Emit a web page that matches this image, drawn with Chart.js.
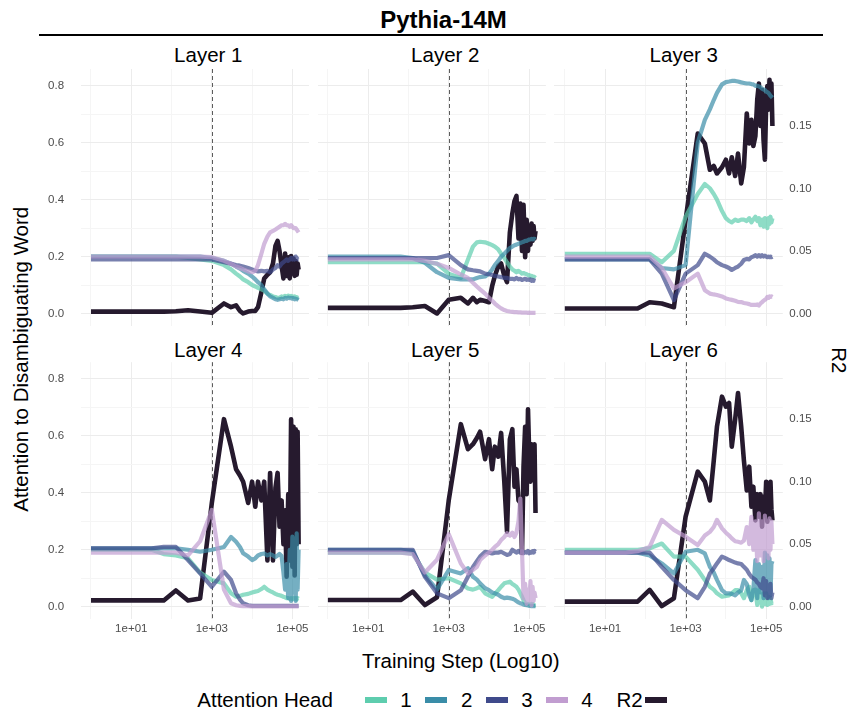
<!DOCTYPE html>
<html>
<head>
<meta charset="utf-8">
<script src="https://cdn.jsdelivr.net/npm/chart.js@4.4.1/dist/chart.umd.min.js"></script>
<style>
  body { margin: 0; background: #fff; width: 847px; height: 723px; position: relative; overflow: hidden;
         font-family: "Liberation Sans", Arial, sans-serif; color: #000; }
  .txt { position: absolute; white-space: nowrap; font-size: 20.5px; line-height: 20.5px; }
  .ctr { transform: translateX(-50%); }
  canvas { position: absolute; }
  .key { position: absolute; height: 6px; top: 697px; }
</style>
</head>
<body>
<div class="txt ctr" style="left:443.5px;top:8px;font-size:24px;line-height:24px;font-weight:bold">Pythia-14M</div>
<div style="position:absolute;left:39px;top:34px;width:784px;height:1.5px;background:#000"></div>
<div id="titles"></div>
<div class="txt" style="left:-139.5px;top:348.75px;width:320px;text-align:center;transform:rotate(-90deg)">Attention to Disambiguating Word</div>
<div class="txt" style="left:819px;top:350.25px;width:40px;text-align:center;transform:rotate(90deg)">R2</div>
<div class="txt ctr" style="left:460.8px;top:651px">Training Step (Log10)</div>
<div id="legend"></div>

<script>
// checkpoints (training steps) shared by all panels
const STEPS = [1, 2, 4, 8, 16, 32, 64, 128, 256, 512,
  1000, 2000, 3000, 4000, 5000, 6000, 8000, 10000,
  12000, 14000, 17000, 20000, 24000, 28000, 33000, 38000, 43000, 48000, 54000, 60000,
  66000, 72000, 79000, 86000, 93000, 100000, 107000, 114000, 121000, 128000, 135000, 143000];

// attention per head (left axis) and R2 (right axis)
const L1_H1 = [0.2,0.2,0.2,0.2,0.2,0.2,0.2,0.2,0.195,0.19,
  0.185,0.17,0.155,0.14,0.13,0.12,0.11,0.1,
  0.095,0.09,0.085,0.08,0.07,0.065,0.06,0.058,0.055,0.055,0.06,0.058,0.062,0.06,0.063,0.06,0.062,0.06,0.058,0.06,0.057,0.058,0.055,0.055];
const L1_H2 = [0.2,0.2,0.2,0.2,0.2,0.2,0.2,0.2,0.2,0.2,
  0.195,0.185,0.175,0.165,0.158,0.15,0.14,0.13,
  0.12,0.11,0.1,0.085,0.07,0.06,0.055,0.05,0.048,0.05,0.052,0.05,0.055,0.052,0.056,0.054,0.055,0.052,0.054,0.05,0.052,0.05,0.05,0.048];
const L1_H3 = [0.19,0.19,0.19,0.19,0.19,0.19,0.19,0.19,0.19,0.19,
  0.19,0.18,0.175,0.17,0.168,0.165,0.16,0.155,
  0.15,0.148,0.15,0.148,0.15,0.145,0.155,0.16,0.17,0.165,0.175,0.18,0.185,0.19,0.185,0.19,0.195,0.19,0.195,0.19,0.2,0.195,0.19,0.19];
const L1_H4 = [0.2,0.2,0.2,0.2,0.2,0.2,0.2,0.2,0.2,0.2,
  0.198,0.185,0.175,0.165,0.16,0.155,0.148,0.145,
  0.15,0.17,0.21,0.245,0.27,0.285,0.29,0.295,0.3,0.305,0.31,0.31,0.315,0.31,0.31,0.305,0.31,0.305,0.3,0.3,0.3,0.295,0.29,0.285];
const L1_R2 = [0.0015,0.0015,0.0015,0.0015,0.0015,0.0015,0.0015,0.0018,0.0025,0.0015,
  0.0005,0.008,0.005,0.0065,0.002,0.0,0.0015,0.002,
  0.002,0.005,0.017,0.028,0.031,0.033,0.04,0.054,0.058,0.05,0.038,0.028,0.048,0.03,0.045,0.028,0.046,0.032,0.044,0.03,0.042,0.031,0.04,0.035];

const L2_H1 = [0.18,0.18,0.18,0.18,0.18,0.18,0.18,0.18,0.18,0.175,
  0.14,0.125,0.19,0.235,0.25,0.252,0.25,0.245,
  0.24,0.235,0.225,0.21,0.195,0.18,0.165,0.155,0.15,0.145,0.15,0.145,0.14,0.142,0.14,0.138,0.135,0.135,0.13,0.132,0.13,0.13,0.128,0.125];
const L2_H2 = [0.2,0.2,0.2,0.2,0.2,0.2,0.2,0.195,0.178,0.145,
  0.125,0.12,0.12,0.12,0.125,0.128,0.13,0.14,
  0.155,0.17,0.185,0.2,0.21,0.22,0.23,0.235,0.24,0.242,0.245,0.248,0.25,0.252,0.255,0.255,0.258,0.26,0.26,0.262,0.26,0.262,0.262,0.26];
const L2_H3 = [0.195,0.195,0.195,0.195,0.195,0.195,0.195,0.195,0.195,0.195,
  0.205,0.17,0.155,0.152,0.15,0.148,0.14,0.138,
  0.135,0.132,0.13,0.128,0.125,0.125,0.122,0.122,0.12,0.125,0.12,0.122,0.118,0.12,0.122,0.118,0.12,0.118,0.12,0.115,0.118,0.115,0.116,0.115];
const L2_H4 = [0.19,0.19,0.19,0.19,0.19,0.19,0.19,0.19,0.185,0.175,
  0.16,0.137,0.125,0.108,0.095,0.085,0.07,0.055,
  0.045,0.035,0.025,0.018,0.012,0.009,0.007,0.006,0.005,0.005,0.004,0.004,0.003,0.003,0.003,0.003,0.002,0.003,0.002,0.002,0.002,0.002,0.002,0.002];
const L2_R2 = [0.0045,0.0045,0.0045,0.0045,0.0045,0.0045,0.0045,0.005,0.006,0.0,
  0.011,0.0125,0.008,0.0125,0.009,0.011,0.01,0.009,
  0.022,0.03,0.038,0.04,0.03,0.025,0.065,0.08,0.09,0.094,0.06,0.088,0.05,0.087,0.045,0.075,0.05,0.07,0.055,0.072,0.058,0.07,0.06,0.066];

const L3_H1 = [0.21,0.21,0.21,0.21,0.21,0.21,0.21,0.21,0.18,0.22,
  0.34,0.42,0.455,0.44,0.42,0.4,0.36,0.335,
  0.325,0.32,0.33,0.325,0.33,0.33,0.325,0.335,0.32,0.33,0.34,0.325,0.335,0.31,0.33,0.305,0.335,0.32,0.3,0.335,0.315,0.34,0.32,0.335];
const L3_H2 = [0.19,0.19,0.19,0.19,0.19,0.19,0.19,0.19,0.16,0.155,
  0.17,0.6,0.68,0.717,0.75,0.775,0.805,0.813,
  0.815,0.817,0.817,0.815,0.812,0.81,0.808,0.808,0.806,0.805,0.8,0.8,0.798,0.795,0.79,0.787,0.785,0.78,0.778,0.775,0.77,0.765,0.762,0.758];
const L3_H3 = [0.19,0.19,0.19,0.19,0.19,0.19,0.19,0.19,0.14,0.047,
  0.14,0.17,0.21,0.2,0.19,0.18,0.17,0.165,
  0.16,0.153,0.16,0.165,0.175,0.188,0.192,0.19,0.198,0.2,0.205,0.2,0.205,0.2,0.205,0.2,0.203,0.2,0.198,0.2,0.198,0.2,0.198,0.2];
const L3_H4 = [0.2,0.2,0.2,0.2,0.2,0.2,0.2,0.2,0.16,0.088,
  0.11,0.14,0.082,0.07,0.067,0.065,0.06,0.053,
  0.05,0.048,0.045,0.041,0.04,0.037,0.035,0.033,0.03,0.03,0.03,0.032,0.028,0.035,0.04,0.045,0.048,0.052,0.058,0.055,0.06,0.058,0.06,0.058];
const L3_R2 = [0.004,0.004,0.004,0.004,0.004,0.004,0.004,0.009,0.008,0.005,
  0.075,0.144,0.136,0.115,0.118,0.112,0.117,0.123,
  0.112,0.125,0.11,0.128,0.104,0.117,0.16,0.136,0.155,0.134,0.142,0.171,0.184,0.15,0.179,0.139,0.123,0.168,0.182,0.163,0.187,0.166,0.184,0.15];

const L4_H1 = [0.2,0.2,0.2,0.2,0.2,0.2,0.185,0.18,0.17,0.12,
  0.094,0.082,0.047,0.035,0.038,0.042,0.045,0.05,
  0.053,0.055,0.062,0.07,0.06,0.055,0.05,0.045,0.042,0.04,0.038,0.035,0.033,0.03,0.03,0.028,0.03,0.027,0.03,0.028,0.03,0.026,0.03,0.028];
const L4_H2 = [0.205,0.205,0.205,0.205,0.205,0.205,0.205,0.205,0.2,0.193,
  0.2,0.21,0.245,0.228,0.21,0.188,0.176,0.164,
  0.17,0.18,0.185,0.187,0.18,0.185,0.18,0.175,0.18,0.185,0.178,0.12,0.06,0.15,0.03,0.2,0.02,0.246,0.05,0.24,0.02,0.258,0.06,0.2];
const L4_H3 = [0.205,0.205,0.205,0.205,0.205,0.205,0.21,0.21,0.164,0.117,
  0.07,0.123,0.094,0.047,0.025,0.012,0.005,0.003,
  0.003,0.003,0.003,0.003,0.003,0.003,0.003,0.003,0.003,0.003,0.003,0.003,0.003,0.003,0.003,0.003,0.003,0.003,0.003,0.003,0.003,0.003,0.003,0.003];
const L4_H4 = [0.19,0.19,0.19,0.19,0.19,0.19,0.19,0.19,0.18,0.23,
  0.34,0.06,0.012,0.005,0.003,0.002,0.002,0.001,
  0.001,0.001,0.001,0.001,0.001,0.001,0.001,0.001,0.001,0.001,0.001,0.001,0.001,0.001,0.001,0.001,0.001,0.001,0.001,0.001,0.001,0.001,0.001,0.001];
const L4_R2 = [0.005,0.005,0.005,0.005,0.005,0.005,0.005,0.013,0.005,0.0065,
  0.083,0.15,0.128,0.11,0.105,0.1,0.083,0.1,
  0.08,0.1,0.085,0.1,0.037,0.107,0.037,0.095,0.107,0.064,0.085,0.05,0.077,0.024,0.09,0.037,0.15,0.032,0.144,0.025,0.142,0.05,0.14,0.05];

const L5_H1 = [0.19,0.19,0.19,0.19,0.19,0.19,0.19,0.187,0.12,0.095,
  0.1,0.082,0.064,0.06,0.065,0.07,0.047,0.04,
  0.035,0.045,0.058,0.07,0.082,0.085,0.088,0.08,0.075,0.07,0.06,0.047,0.035,0.023,0.012,0.008,0.01,0.008,0.006,0.01,0.006,0.008,0.005,0.006];
const L5_H2 = [0.2,0.2,0.2,0.2,0.2,0.2,0.2,0.195,0.11,0.06,
  0.129,0.117,0.135,0.105,0.095,0.082,0.065,0.058,
  0.05,0.047,0.042,0.035,0.03,0.032,0.03,0.028,0.025,0.02,0.015,0.012,0.01,0.008,0.006,0.005,0.004,0.003,0.003,0.002,0.003,0.002,0.002,0.002];
const L5_H3 = [0.2,0.2,0.2,0.2,0.2,0.2,0.2,0.2,0.105,0.047,
  0.03,0.058,0.105,0.14,0.16,0.176,0.193,0.19,
  0.187,0.19,0.19,0.193,0.187,0.182,0.185,0.2,0.195,0.19,0.196,0.19,0.195,0.188,0.192,0.19,0.196,0.188,0.192,0.19,0.195,0.19,0.196,0.193];
const L5_H4 = [0.19,0.19,0.19,0.19,0.19,0.19,0.19,0.185,0.12,0.165,
  0.255,0.152,0.117,0.129,0.14,0.164,0.18,0.19,
  0.2,0.21,0.22,0.234,0.245,0.258,0.25,0.26,0.245,0.26,0.3,0.38,0.2,0.03,0.08,0.01,0.06,0.02,0.09,0.005,0.07,0.02,0.05,0.03];
const L5_R2 = [0.0053,0.0053,0.0053,0.0053,0.0053,0.0053,0.0053,0.012,0.0013,0.0075,
  0.085,0.146,0.126,0.13,0.135,0.14,0.118,0.134,
  0.11,0.128,0.12,0.139,0.1,0.06,0.134,0.142,0.096,0.11,0.085,0.083,0.043,0.112,0.144,0.09,0.158,0.12,0.1,0.13,0.11,0.12,0.13,0.075];

const L6_H1 = [0.2,0.2,0.2,0.2,0.2,0.2,0.2,0.205,0.222,0.176,
  0.176,0.13,0.094,0.07,0.06,0.047,0.035,0.038,
  0.04,0.047,0.058,0.058,0.047,0.03,0.058,0.07,0.023,0.058,0.06,0.006,0.058,0.03,0.0,0.047,0.01,0.047,0.006,0.035,0.01,0.03,0.012,0.015];
const L6_H2 = [0.19,0.19,0.19,0.19,0.19,0.19,0.19,0.18,0.152,0.117,
  0.193,0.2,0.187,0.14,0.12,0.094,0.058,0.047,
  0.047,0.045,0.04,0.05,0.058,0.094,0.08,0.04,0.023,0.06,0.164,0.03,0.15,0.05,0.14,0.03,0.19,0.05,0.18,0.03,0.17,0.04,0.15,0.16];
const L6_H3 = [0.19,0.19,0.19,0.19,0.19,0.19,0.19,0.19,0.14,0.094,
  0.058,0.03,0.07,0.117,0.135,0.152,0.176,0.17,
  0.164,0.16,0.155,0.152,0.15,0.14,0.13,0.115,0.105,0.1,0.095,0.085,0.08,0.07,0.065,0.1,0.04,0.09,0.03,0.07,0.04,0.08,0.03,0.05];
const L6_H4 = [0.19,0.19,0.19,0.19,0.19,0.19,0.195,0.21,0.305,0.27,
  0.246,0.217,0.25,0.263,0.28,0.305,0.275,0.26,
  0.25,0.24,0.23,0.228,0.225,0.232,0.28,0.22,0.316,0.2,0.3,0.16,0.328,0.18,0.3,0.16,0.32,0.2,0.3,0.17,0.31,0.2,0.3,0.22];
const L6_R2 = [0.004,0.004,0.004,0.004,0.004,0.004,0.004,0.0134,0.0005,0.0067,
  0.072,0.108,0.1,0.085,0.117,0.144,0.168,0.16,
  0.163,0.128,0.15,0.171,0.144,0.117,0.093,0.112,0.08,0.096,0.069,0.09,0.072,0.09,0.064,0.088,0.075,0.1,0.068,0.098,0.072,0.1,0.078,0.069];

const LAYER_NAMES = ['Layer 1', 'Layer 2', 'Layer 3', 'Layer 4', 'Layer 5', 'Layer 6'];
const HEADS = [
  [L1_H1, L1_H2, L1_H3, L1_H4], [L2_H1, L2_H2, L2_H3, L2_H4], [L3_H1, L3_H2, L3_H3, L3_H4],
  [L4_H1, L4_H2, L4_H3, L4_H4], [L5_H1, L5_H2, L5_H3, L5_H4], [L6_H1, L6_H2, L6_H3, L6_H4],
];
const R2 = [L1_R2, L2_R2, L3_R2, L4_R2, L5_R2, L6_R2];

const HEAD_LABELS = ['1', '2', '3', '4'];
const X_GRID = [1, 10, 100, 1000, 10000, 100000];
const X_LABELED = [10, 1000, 100000];
const Y_GRID = [0, 0.1, 0.2, 0.3, 0.4, 0.5, 0.6, 0.7, 0.8];
const R2_TICKS = [0, 0.05, 0.1, 0.15];
const DASH_STEP = 1000;

const HEAD_COLORS = ['#5ecdae', '#3a8da8', '#3f4a8b', '#c19dd0'];
const R2_COLOR = '#261a2e';

// panel geometry (px)
const PANEL_LEFT = [80.6, 317.5, 554.4];
const PANEL_TOP = [69, 362.2];
const PANEL_W = 228.4, PANEL_H = 257.2;
const TITLE_X = [208.3, 445.3, 683.8];
const TITLE_TOP = [45, 340];

const FONT = '"Liberation Sans", Arial, sans-serif';
const tickFont = { family: FONT, size: 11.5 };

function alpha(hex, a) {
  const n = parseInt(hex.slice(1), 16);
  return `rgba(${n >> 16},${(n >> 8) & 255},${n & 255},${a})`;
}

const dashLine = {
  id: 'dashLine',
  beforeDatasetsDraw(chart) {
    const { ctx, chartArea: a, scales: { x } } = chart;
    const px = Math.round(x.getPixelForValue(DASH_STEP)) + 0.5;
    ctx.save();
    ctx.strokeStyle = '#5c5c5c';
    ctx.lineWidth = 1;
    ctx.setLineDash([4, 3]);
    ctx.beginPath();
    ctx.moveTo(px, a.top);
    ctx.lineTo(px, a.bottom);
    ctx.stroke();
    ctx.restore();
  }
};

LAYER_NAMES.forEach((name, i) => {
  const col = i % 3, row = Math.floor(i / 3);

  const t = document.createElement('div');
  t.className = 'txt ctr';
  t.style.left = TITLE_X[col] + 'px';
  t.style.top = TITLE_TOP[row] + 'px';
  t.textContent = name;
  document.getElementById('titles').appendChild(t);

  // canvas leaves enough margin round the plot area that Chart.js label padding never shrinks it
  const cLeft = Math.floor(PANEL_LEFT[col]) - 46;
  const leftW = PANEL_LEFT[col] - cLeft;
  const cW = Math.ceil(leftW + PANEL_W + 52);
  const rightW = cW - leftW - PANEL_W;
  const cTop = Math.floor(PANEL_TOP[row]) - 34;
  const padTop = PANEL_TOP[row] - cTop;
  const cH = Math.ceil(padTop + PANEL_H + 34);
  const bottomH = cH - padTop - PANEL_H;

  const cv = document.createElement('canvas');
  cv.width = cW; cv.height = cH;
  cv.style.left = cLeft + 'px'; cv.style.top = cTop + 'px';
  document.body.appendChild(cv);

  const pts = arr => STEPS.map((s, k) => ({ x: s, y: arr[k] }));
  const datasets = [];
  for (let h = 3; h >= 0; h--) {
    datasets.push({
      label: HEAD_LABELS[h], data: pts(HEADS[i][h]), yAxisID: 'y',
      borderColor: alpha(HEAD_COLORS[h], 0.7), borderWidth: 4.2,
    });
  }
  datasets.push({ label: 'R2', data: pts(R2[i]), yAxisID: 'y2', borderColor: R2_COLOR, borderWidth: 4.6 });

  new Chart(cv, {
    type: 'line',
    data: { datasets },
    options: {
      responsive: false,
      animation: false,
      devicePixelRatio: 1,
      layout: { padding: { top: padTop, left: 0, right: 0, bottom: 0 } },
      elements: {
        point: { radius: 0, hoverRadius: 0 },
        line: { tension: 0, borderJoinStyle: 'round', borderCapStyle: 'butt' }
      },
      plugins: { legend: { display: false }, tooltip: { enabled: false } },
      scales: {
        x: {
          type: 'logarithmic', position: 'bottom',
          min: 0.552, max: 258800,
          afterBuildTicks: s => { s.ticks = X_GRID.map(v => ({ value: v })); },
          afterFit: s => { s.height = bottomH; },
          border: { display: false },
          grid: {
            drawTicks: false, lineWidth: 1,
            color: c => X_LABELED.includes(c.tick.value) ? '#ececec' : '#f5f5f5'
          },
          ticks: {
            display: row === 1, autoSkip: false, maxRotation: 0, padding: 3,
            color: '#4d4d4d', font: tickFont,
            callback: v => X_LABELED.includes(v) ? '1e+' + String(Math.round(Math.log10(v))).padStart(2, '0') : ''
          }
        },
        y: {
          position: 'left', min: -0.0446, max: 0.859,
          afterBuildTicks: s => { s.ticks = Y_GRID.map(v => ({ value: v })); },
          afterFit: s => { s.width = leftW; },
          border: { display: false },
          grid: {
            drawTicks: false, lineWidth: 1,
            color: c => Math.round(c.tick.value * 10) % 2 === 0 ? '#ececec' : '#f5f5f5'
          },
          ticks: {
            display: col === 0, padding: 16.5, color: '#4d4d4d', font: tickFont,
            callback: v => Math.round(v * 10) % 2 === 0 ? v.toFixed(1) : ''
          }
        },
        y2: {
          position: 'right', min: -0.0102, max: 0.1956,
          afterBuildTicks: s => { s.ticks = R2_TICKS.map(v => ({ value: v })); },
          afterFit: s => { s.width = rightW; },
          border: { display: false },
          grid: { display: false, drawTicks: false },
          ticks: {
            display: col === 2, padding: 6.5, color: '#4d4d4d', font: tickFont,
            callback: v => v.toFixed(2)
          }
        }
      }
    },
    plugins: [dashLine]
  });
});

// legend
const legend = document.getElementById('legend');
function addText(text, left, centred) {
  const d = document.createElement('div');
  d.className = 'txt' + (centred ? ' ctr' : '');
  d.style.left = left + 'px';
  d.style.top = '689.7px';
  d.textContent = text;
  legend.appendChild(d);
}
function addKey(color, left) {
  const k = document.createElement('div');
  k.className = 'key';
  k.style.left = left + 'px';
  k.style.width = '22px';
  k.style.background = color;
  legend.appendChild(k);
}
addText('Attention Head', 197.3, false);
const KEY_LEFT = [365, 425, 486, 546];
const KEY_LABEL_X = [406, 466.7, 527, 587];
HEAD_LABELS.forEach((lab, h) => {
  addKey(HEAD_COLORS[h], KEY_LEFT[h]);
  addText(lab, KEY_LABEL_X[h], true);
});
addText('R2', 629.5, true);
addKey(R2_COLOR, 645);
</script>
</body>
</html>
